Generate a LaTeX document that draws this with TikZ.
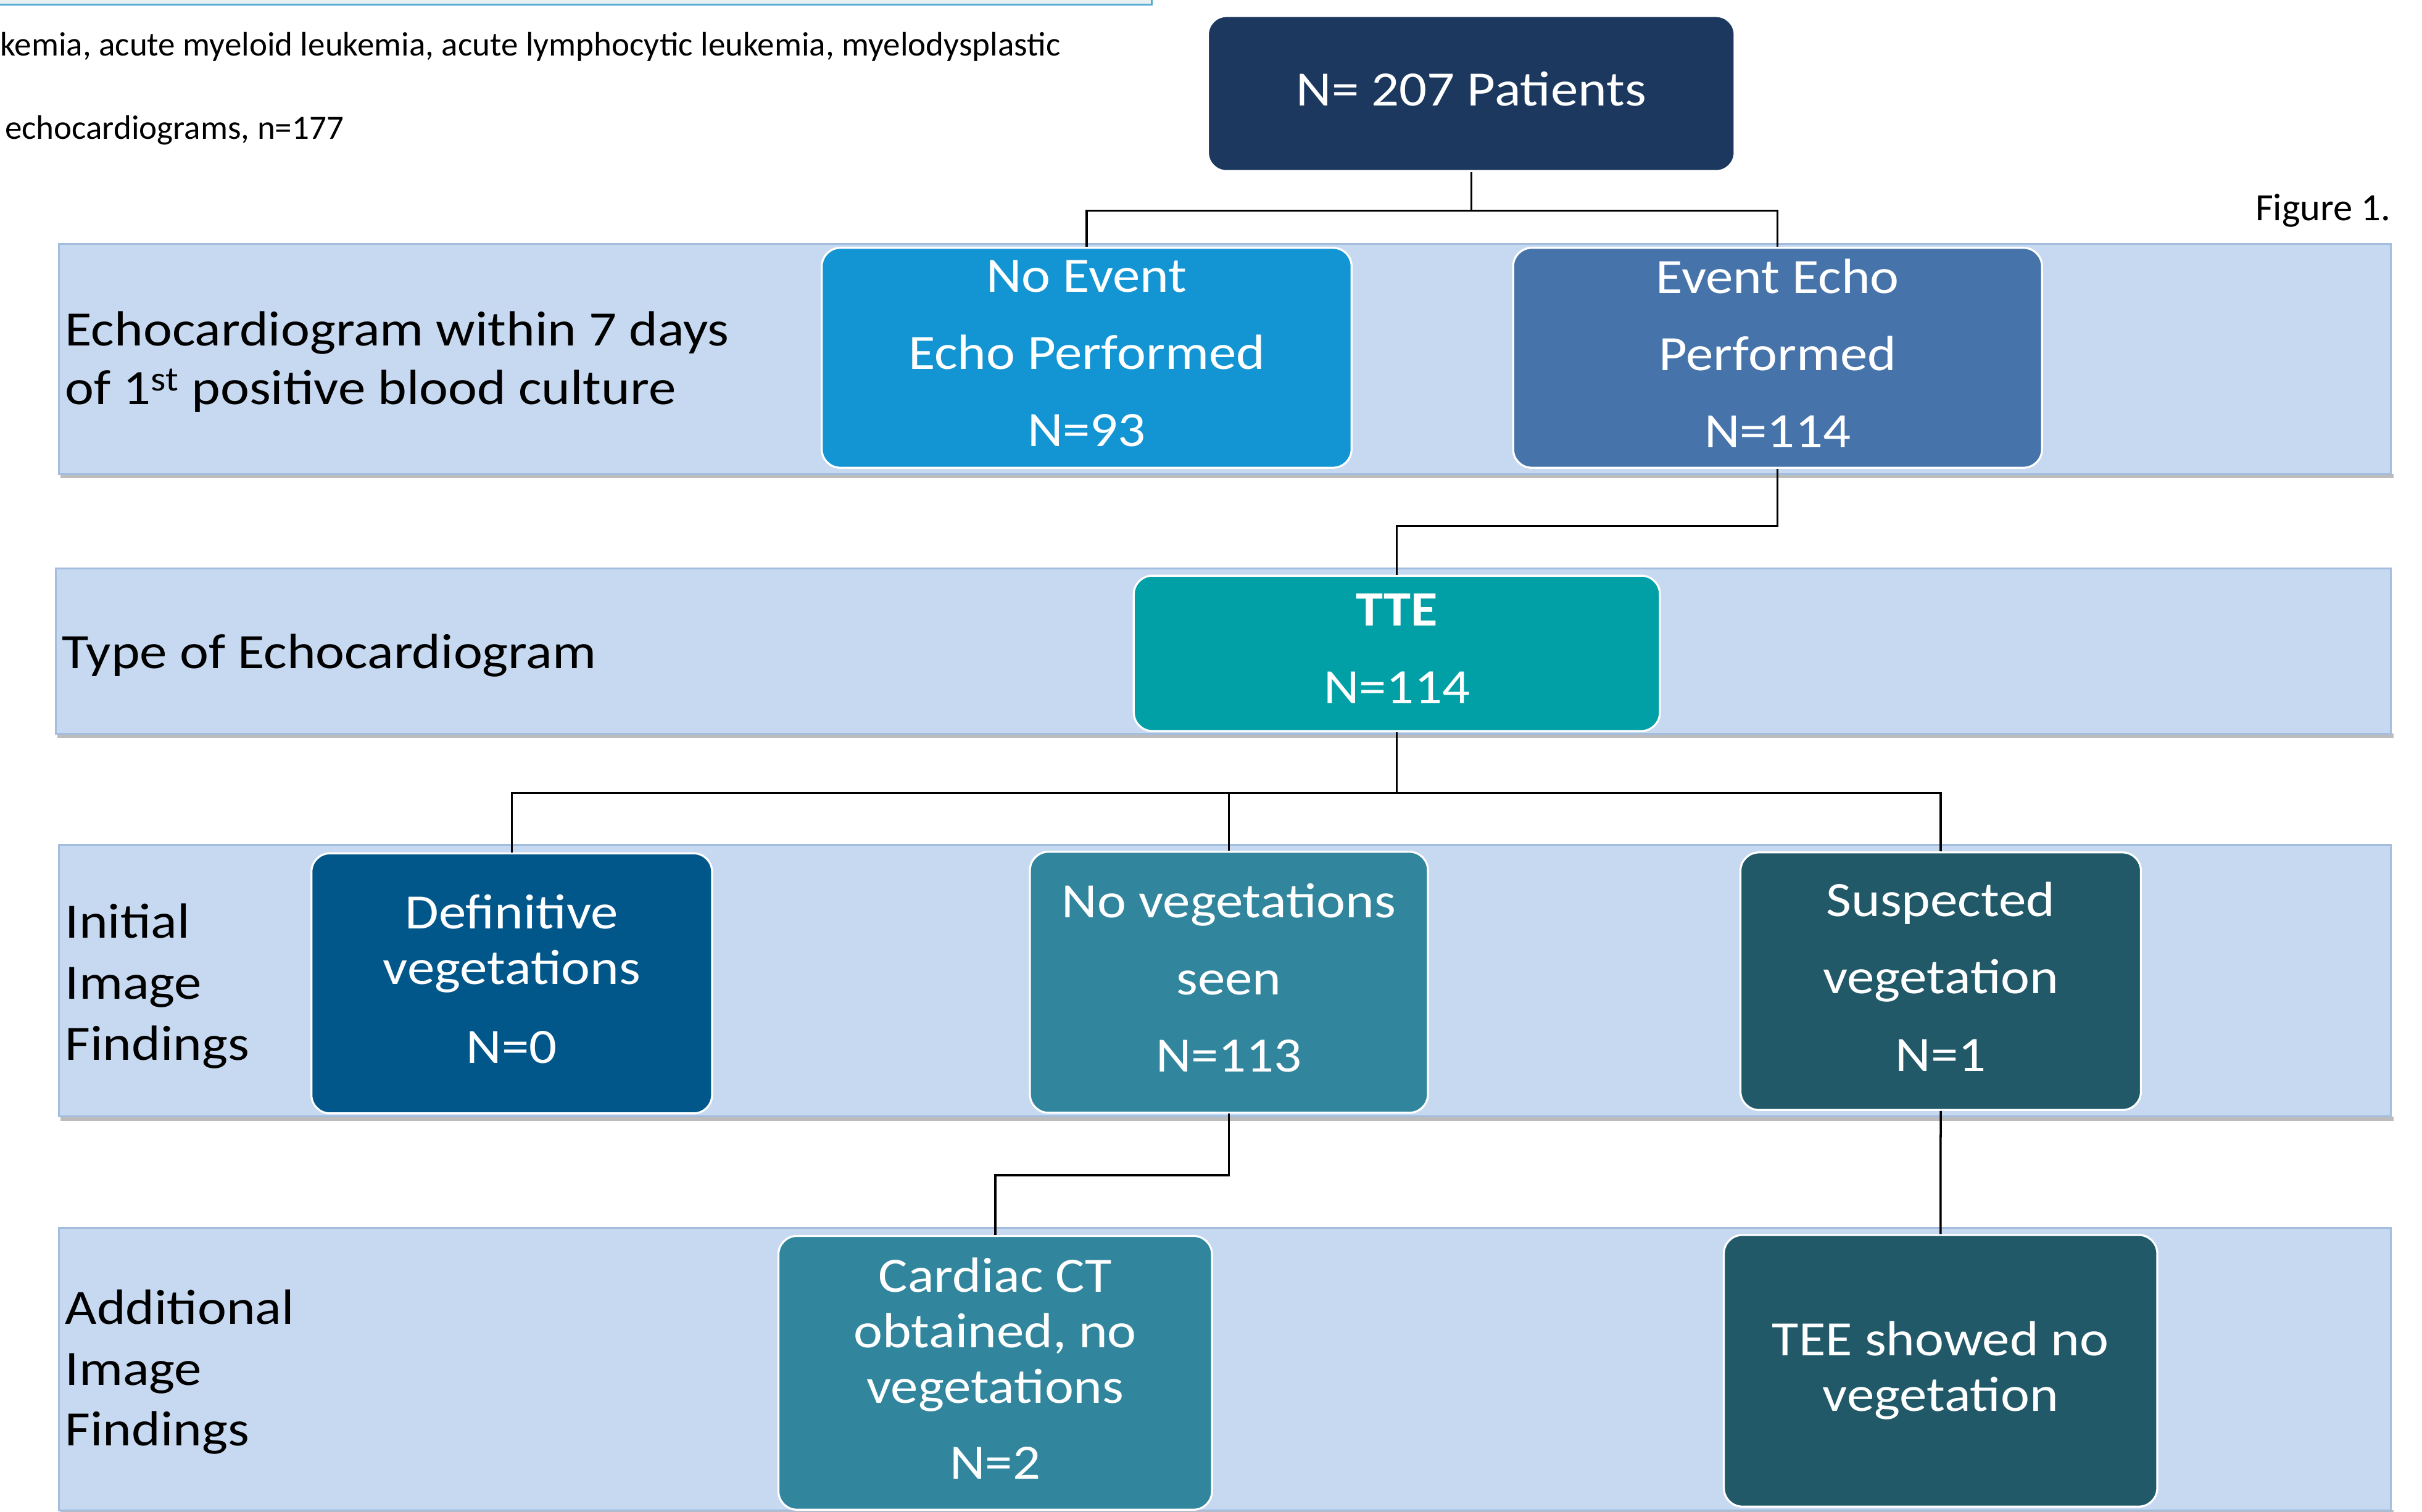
\documentclass[tikz,border=0pt]{standalone}
\usepackage{fontspec}
\setmainfont{Carlito}[FakeStretch=1.11]
\newfontfamily\pagefont{Carlito}
\usepackage{tikz}
\usetikzlibrary{positioning, calc}
\definecolor{LaneBlue}{RGB}{198,217,240}
\definecolor{LaneEdge}{RGB}{163,189,222}
\definecolor{LaneShade}{RGB}{188,188,188}
\definecolor{NavyTop}{RGB}{28,56,94}
\definecolor{SkyBlue}{RGB}{19,149,212}
\definecolor{SteelBlue}{RGB}{70,116,170}
\definecolor{TealTTE}{RGB}{0,160,166}
\definecolor{DeepBlue}{RGB}{1,86,138}
\definecolor{AquaMid}{RGB}{49,133,156}
\definecolor{AquaDark}{RGB}{33,89,104}
\definecolor{NoteFill}{RGB}{232,240,244}
\definecolor{NoteEdge}{RGB}{84,172,210}
\newcommand{\cardfont}{\fontsize{32}{36}\selectfont}

\begin{document}
\begin{tikzpicture}[x=1pt, y=-1pt,
    lane/.style={fill=LaneBlue, draw=LaneEdge, line width=1.2pt},
    card/.style={rectangle, rounded corners=12pt, draw=white, line width=1.3pt,
                 text=white, align=center, inner sep=0pt, font=\cardfont,
                 execute at end node={\rule[-6pt]{0pt}{6pt}}},
    lanelabel/.style={anchor=west, inner sep=0pt, align=left},
    link/.style={black, line width=1.4pt}]
        \clip (0,0) rectangle (1568,979);
        \fill[white] (0,0) rectangle (1568,979);
        % Cut-off note at the top
        \draw[fill=NoteFill, draw=NoteEdge, line width=1pt] (-5,-10) rectangle (745.6,3);
        \node[anchor=base west, inner sep=0pt, font=\pagefont\fontsize{22}{26}\selectfont] (note1) at (0,36)
            {kemia, acute myeloid leukemia, acute lymphocytic leukemia, myelodysplastic};
        \node[anchor=base west, inner sep=0pt, font=\pagefont\fontsize{22}{26}\selectfont] (note2) at (3,90)
            {echocardiograms, n=177};
        \node[anchor=base east, inner sep=0pt, font=\pagefont\fontsize{25}{30}\selectfont] (figlabel) at (1548,143)
            {Figure 1.};
        % Lanes
        \foreach \ltop/\lbot/\lleft in {158/307/38, 368/475/36, 547/723/38, 795/978/38} {
            \fill[LaneShade] (\lleft+1,\lbot) rectangle (1549.5,\lbot+2.8);
            \draw[lane] (\lleft,\ltop) rectangle (1548,\lbot);
        }
        % Lane labels
        \node[lanelabel, font=\fontsize{32}{38}\selectfont] (echolabel) at (42,234.5)
            {Echocardiogram within 7 days\\of 1\textsuperscript{st} positive blood culture};
        \node[lanelabel, font=\fontsize{32}{38}\selectfont] (typelabel) at (40,424.5) {Type of Echocardiogram};
        \node[lanelabel, font=\fontsize{32}{39.5}\selectfont] (initlabel) at (42,638.5) {Initial\\Image\\Findings};
        \node[lanelabel, font=\fontsize{32}{39.5}\selectfont] (addlabel) at (42,888.5) {Additional\\Image\\Findings};
        % Boxes
        \node[card, fill=NavyTop, minimum width=341, minimum height=100.4] (top) at (952.5,60.6) {N= 207 Patients};
        \node[card, fill=SkyBlue, minimum width=343, minimum height=142.4] (noevent) at (703.5,231.7)
            {No Event\\[14pt]Echo Performed\\[14pt]N=93};
        \node[card, fill=SteelBlue, minimum width=342.4, minimum height=142.4] (event) at (1150.8,231.7)
            {Event Echo\\[14pt]Performed\\[14pt]N=114};
        \node[card, fill=TealTTE, minimum width=340.6, minimum height=100.6] (tte) at (904.3,423.1)
            {\textbf{TTE}\\[14pt]N=114};
        \node[card, fill=DeepBlue, minimum width=259.4, minimum height=168.4] (defin) at (331.3,636.8)
            {Definitive\\vegetations\\[15pt]N=0};
        \node[card, fill=AquaMid, minimum width=257.7, minimum height=169] (noveg) at (795.6,636.1)
            {No vegetations\\[14pt]seen\\[14pt]N=113};
        \node[card, fill=AquaDark, minimum width=259.3, minimum height=166.8] (susp) at (1256.4,635.4)
            {Suspected\\[14pt]vegetation\\[14pt]N=1};
        \node[card, fill=AquaMid, minimum width=280.7, minimum height=177.3] (ct) at (644.3,889)
            {Cardiac CT\\obtained, no\\vegetations\\[13pt]N=2};
        \node[card, fill=AquaDark, minimum width=280.6, minimum height=175.9] (tee) at (1256.3,887.7)
            {TEE showed no\\vegetation};
        % Connectors
        \coordinate (topsplit) at (952.5,136.5);
        \draw[link] (top.south) -- (topsplit) -| (noevent.north);
        \draw[link] (topsplit) -| (event.north);
        \draw[link] (event.south) -- ++(0,37) -| (tte.north);
        \draw[link] (tte.south) -- ++(0,39.5) -| (defin.north);
        \draw[link] (tte.south) ++(0,39.5) -| (noveg.north);
        \draw[link] (tte.south) ++(0,39.5) -| (susp.north);
        \draw[link] (noveg.south) -- ++(0,39.7) -| (ct.north);
        \draw[link] (susp.south) -- (tee.north);
    \end{tikzpicture}
\end{document}
